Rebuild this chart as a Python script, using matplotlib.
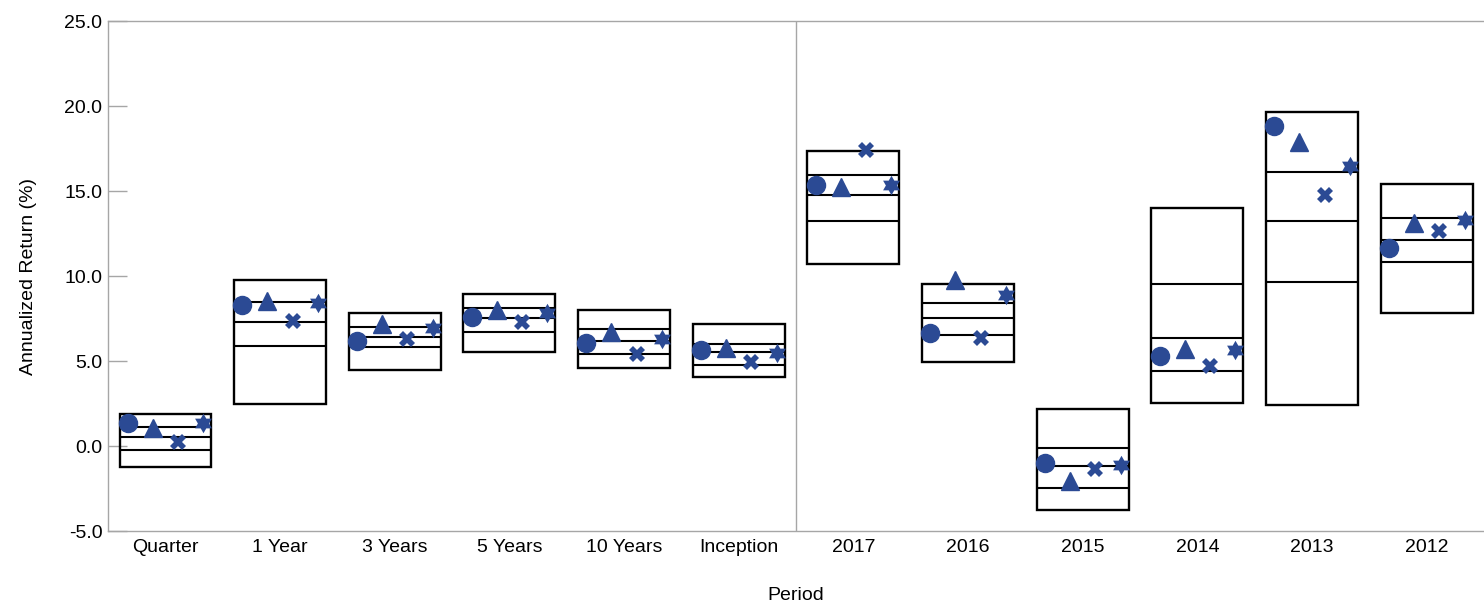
import numpy as np
import matplotlib
matplotlib.use('Agg')
import matplotlib.pyplot as plt

plt.rcParams['font.family'] = ['Liberation Sans', 'DejaVu Sans']

# periods
categories = ['Quarter', '1 Year', '3 Years', '5 Years', '10 Years', 'Inception',
              '2017', '2016', '2015', '2014', '2013', '2012']

# universe percentiles (box edges and inner lines)
p95 = [1.89, 9.78, 7.83, 8.94, 8.02, 7.20, 17.38, 9.53, 2.17, 14.01, 19.63, 15.42]
p75 = [1.14, 8.46, 6.98, 8.14, 6.90, 6.02, 15.93, 8.40, -0.12, 9.51, 16.09, 13.41]
p50 = [0.53, 7.32, 6.41, 7.51, 6.20, 5.53, 14.77, 7.51, -1.15, 6.36, 13.25, 12.09]
p25 = [-0.22, 5.86, 5.82, 6.73, 5.41, 4.76, 13.21, 6.54, -2.47, 4.40, 9.65, 10.82]
p5 = [-1.24, 2.47, 4.50, 5.55, 4.61, 4.06, 10.72, 4.95, -3.78, 2.54, 2.39, 7.85]

# series shown as markers
circle_vals = [1.36, 8.32, 6.15, 7.57, 6.06, 5.65, 15.36, 6.67, -0.98, 5.28, 18.81, 11.64]
triangle_vals = [1.05, 8.54, 7.20, 8.00, 6.69, 5.75, 15.22, 9.78, -2.05, 5.71, 17.87, 13.09]
cross_vals = [0.26, 7.34, 6.31, 7.27, 5.41, 4.92, 17.44, 6.36, -1.37, 4.72, 14.79, 12.62]
star_vals = [1.38, 8.44, 6.96, 7.84, 6.27, 5.49, 15.34, 8.86, -1.10, 5.64, 16.46, 13.27]

blue = '#2b4a94'
grey = '#a6a6a6'

# six pointed star marker
ang = np.pi / 2 + np.arange(12) * np.pi / 6
rad = np.where(np.arange(12) % 2 == 0, 1.0, 1 / np.sqrt(3))
hexagram = list(zip(rad * np.cos(ang), rad * np.sin(ang)))

fig = plt.figure(figsize=(14.84, 6.07), dpi=100)
ax = fig.add_axes([0.0728, 0.1252, 0.9272, 0.8402])

x = np.arange(len(categories))
w = 0.8
low = np.array(p5)
high = np.array(p95)

ax.bar(x, high - low, bottom=low, width=w, fill=False, edgecolor='black',
       linewidth=1.7, zorder=2)
for vals in (p75, p50, p25):
    ax.hlines(vals, x - w / 2, x + w / 2, color='black', linewidth=1.5, zorder=2)

ax.plot(x - 0.33, circle_vals, 'o', color=blue, markersize=13, linestyle='none', zorder=3)
ax.plot(x - 0.11, triangle_vals, '^', color=blue, markersize=13, linestyle='none', zorder=3)
ax.plot(x + 0.11, cross_vals, 'X', color=blue, markersize=11.5, markeredgewidth=0,
        linestyle='none', zorder=3)
ax.plot(x + 0.33, star_vals, marker=hexagram, color=blue, markersize=14,
        markeredgewidth=0, linestyle='none', zorder=3)

ax.axvline(5.5, color=grey, linewidth=1.0, zorder=1)

ax.set_xlim(-0.5, 11.5)
ax.set_ylim(-5, 25)
ax.set_yticks(np.arange(-5, 26, 5))
ax.set_yticklabels(['%.1f' % v for v in np.arange(-5, 26, 5)])
ax.set_xticks(x)
ax.set_xticklabels(categories)

ax.tick_params(axis='y', direction='in', length=14, width=1, color=grey,
               labelsize=14, pad=4)
ax.tick_params(axis='x', length=0, labelsize=14, pad=6)

for side in ('left', 'top', 'bottom'):
    ax.spines[side].set_color(grey)
    ax.spines[side].set_linewidth(1.0)
ax.spines['right'].set_visible(False)

ax.set_xlabel('Period', fontsize=14, labelpad=22)
ax.set_ylabel('Annualized Return (%)', fontsize=14, labelpad=20)

fig.savefig('out.png', dpi=100)
